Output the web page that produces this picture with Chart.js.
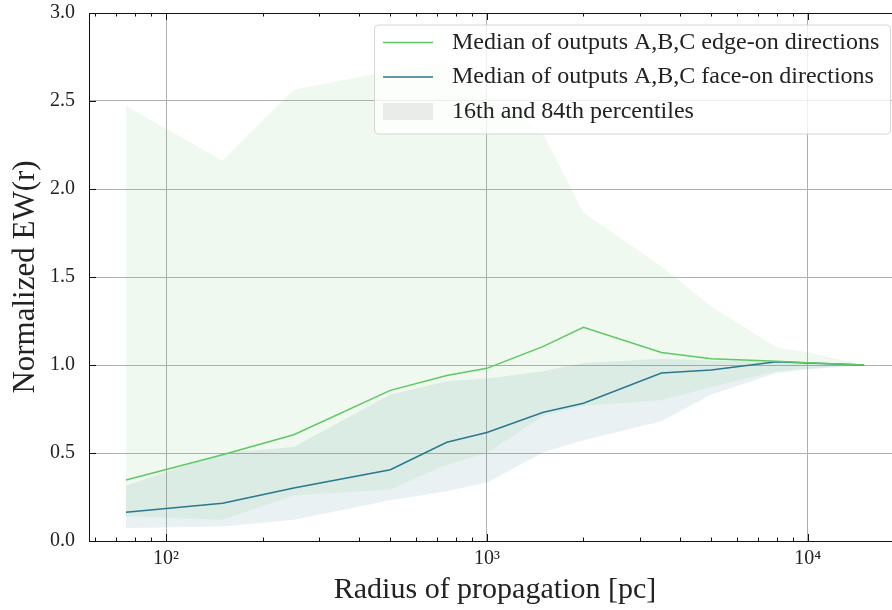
<!DOCTYPE html>
<html>
<head>
<meta charset="utf-8">
<script src="https://cdn.jsdelivr.net/npm/chart.js@4/dist/chart.umd.min.js"></script>
<style>
  html, body { margin: 0; padding: 0; overflow: hidden; background: #fff; }
  canvas { display: block; }
</style>
</head>
<body>
<canvas id="ewChart" width="902" height="610"></canvas>
<script>
// radius of propagation [pc]
var radius = [75, 150, 250, 500, 750, 1000, 1500, 2000, 3500, 5000, 8000, 10000, 15000];

// medians
var edgeMedian = [0.347, 0.49, 0.604, 0.856, 0.94, 0.981, 1.106, 1.214, 1.071, 1.035, 1.021, 1.013, 1.0];
var faceMedian = [0.163, 0.214, 0.301, 0.405, 0.561, 0.617, 0.731, 0.783, 0.954, 0.972, 1.019, 1.012, 1.0];

// 16th / 84th percentiles
var edgeHigh = [2.471, 2.16, 2.564, 2.67, 2.72, 2.55, 2.31, 1.865, 1.56, 1.334, 1.10, 1.072, 1.0];
var edgeLow = [0.140, 0.121, 0.258, 0.292, 0.435, 0.50, 0.712, 0.769, 0.80, 0.875, 0.964, 0.98, 1.0];
var faceHigh = [0.316, 0.50, 0.534, 0.832, 0.907, 0.923, 0.964, 1.012, 1.035, 1.025, 1.022, 1.012, 1.0];
var faceLow = [0.074, 0.083, 0.121, 0.232, 0.282, 0.333, 0.504, 0.572, 0.68, 0.832, 0.955, 0.974, 1.0];

var legendLabels = [
    'Median of outputs A,B,C edge-on directions',
    'Median of outputs A,B,C face-on directions',
    '16th and 84th percentiles'
];

var xTicks = [60, 70, 80, 90, 100, 200, 300, 400, 500, 600, 700, 800, 900,
    1000, 2000, 3000, 4000, 5000, 6000, 7000, 8000, 9000, 10000];
var xMajor = {100: '10\u00b2', 1000: '10\u00b3', 10000: '10\u2074'};
var yTicks = [0, 0.5, 1.0, 1.5, 2.0, 2.5, 3.0];

var SERIF = '"Liberation Serif", "DejaVu Serif", serif';
var GREEN = '#5ec962';
var BLUE = '#2a788e';

function points(values) {
    return radius.map(function (r, i) {
        return {x: r, y: values[i]};
    });
}

// inward ticks and the box round the plot, matplotlib style
var framePlugin = {
    id: 'frame',
    afterDatasetsDraw: function (chart) {
        var ctx = chart.ctx;
        var a = chart.chartArea;
        var xs = chart.scales.x;
        var ys = chart.scales.y;
        ctx.save();
        ctx.strokeStyle = '#111';
        ctx.lineWidth = 1;
        ctx.beginPath();
        xTicks.forEach(function (v) {
            var px = Math.round(xs.getPixelForValue(v)) + 0.5;
            var len = xMajor[v] ? 7 : 3.5;
            ctx.moveTo(px, a.bottom);
            ctx.lineTo(px, a.bottom - len);
            ctx.moveTo(px, a.top);
            ctx.lineTo(px, a.top + len);
        });
        yTicks.forEach(function (v) {
            var py = Math.round(ys.getPixelForValue(v)) + 0.5;
            ctx.moveTo(a.left, py);
            ctx.lineTo(a.left + 7, py);
            ctx.moveTo(a.right, py);
            ctx.lineTo(a.right - 7, py);
        });
        ctx.stroke();
        ctx.strokeRect(Math.round(a.left) + 0.5, Math.round(a.top) + 0.5,
            Math.round(a.right - a.left), Math.round(a.bottom - a.top));
        ctx.restore();
    }
};

var legendPlugin = {
    id: 'boxLegend',
    afterDraw: function (chart) {
        var ctx = chart.ctx;
        var a = chart.chartArea;
        var w = 516, h = 109;
        var left = a.right - 11 - w;
        var top = a.top + 11.5;
        ctx.save();
        ctx.beginPath();
        ctx.roundRect(left + 0.5, top + 0.5, w, h, 4);
        ctx.fillStyle = 'rgba(255,255,255,0.8)';
        ctx.fill();
        ctx.strokeStyle = 'rgba(204,204,204,0.8)';
        ctx.lineWidth = 1;
        ctx.stroke();

        var rows = [top + 18, top + 52.5, top + 87];
        ctx.lineWidth = 1.5;
        ctx.strokeStyle = GREEN;
        ctx.beginPath();
        ctx.moveTo(left + 9, rows[0]);
        ctx.lineTo(left + 59, rows[0]);
        ctx.stroke();
        ctx.strokeStyle = BLUE;
        ctx.beginPath();
        ctx.moveTo(left + 9, rows[1]);
        ctx.lineTo(left + 59, rows[1]);
        ctx.stroke();
        ctx.fillStyle = '#ebebeb';
        ctx.fillRect(left + 9, rows[2] - 8.5, 50, 17);

        ctx.fillStyle = '#222';
        ctx.font = '24px ' + SERIF;
        ctx.textBaseline = 'middle';
        ctx.textAlign = 'left';
        legendLabels.forEach(function (t, i) {
            ctx.fillText(t, left + 78, rows[i]);
        });
        ctx.restore();
    }
};

new Chart(document.getElementById('ewChart'), {
    type: 'line',
    data: {
        datasets: [
            {data: points(edgeMedian), borderColor: GREEN, borderWidth: 1.5, fill: false},
            {data: points(faceMedian), borderColor: BLUE, borderWidth: 1.5, fill: false},
            {data: points(edgeHigh), borderWidth: 0, borderColor: 'rgba(0,0,0,0)',
                backgroundColor: 'rgba(94,201,98,0.1)', fill: '+1'},
            {data: points(edgeLow), borderWidth: 0, borderColor: 'rgba(0,0,0,0)', fill: false},
            {data: points(faceHigh), borderWidth: 0, borderColor: 'rgba(0,0,0,0)',
                backgroundColor: 'rgba(42,120,142,0.1)', fill: '+1'},
            {data: points(faceLow), borderWidth: 0, borderColor: 'rgba(0,0,0,0)', fill: false}
        ]
    },
    options: {
        responsive: false,
        animation: false,
        layout: {padding: {top: 13, right: 1, left: 0, bottom: 0}},
        elements: {
            point: {radius: 0, hoverRadius: 0},
            line: {tension: 0}
        },
        plugins: {
            legend: {display: false},
            tooltip: {enabled: false}
        },
        scales: {
            x: {
                type: 'logarithmic',
                min: 57.5,
                max: 19540,
                border: {display: false},
                afterBuildTicks: function (scale) {
                    scale.ticks = xTicks.map(function (v) { return {value: v}; });
                },
                afterFit: function (scale) {
                    scale.height = 69;
                    scale.paddingLeft = 0;
                    scale.paddingRight = 0;
                },
                grid: {
                    drawTicks: false,
                    lineWidth: 1,
                    color: function (c) {
                        return c.tick && xMajor[c.tick.value] ? '#b0b0b0' : 'rgba(0,0,0,0)';
                    }
                },
                ticks: {
                    autoSkip: false,
                    maxRotation: 0,
                    padding: 6,
                    color: '#222',
                    font: {family: SERIF, size: 20},
                    callback: function (v) { return xMajor[v] || ''; }
                },
                title: {
                    display: true,
                    text: 'Radius of propagation [pc]',
                    color: '#222',
                    font: {family: SERIF, size: 30},
                    padding: {top: 0, bottom: 2}
                }
            },
            y: {
                min: 0,
                max: 3,
                border: {display: false},
                afterBuildTicks: function (scale) {
                    scale.ticks = yTicks.map(function (v) { return {value: v}; });
                },
                afterFit: function (scale) {
                    scale.width = 89;
                    scale.paddingTop = 0;
                    scale.paddingBottom = 0;
                },
                grid: {
                    drawTicks: false,
                    lineWidth: 1,
                    color: function (c) {
                        var v = c.tick ? c.tick.value : 0;
                        return v > 0 && v < 3 ? '#b0b0b0' : 'rgba(0,0,0,0)';
                    }
                },
                ticks: {
                    padding: 14,
                    color: '#222',
                    font: {family: SERIF, size: 20},
                    callback: function (v) { return Number(v).toFixed(1); }
                },
                title: {
                    display: true,
                    text: 'Normalized EW(r)',
                    color: '#222',
                    font: {family: SERIF, size: 31},
                    padding: {top: 7, bottom: 0}
                }
            }
        }
    },
    plugins: [framePlugin, legendPlugin]
});
</script>
</body>
</html>
